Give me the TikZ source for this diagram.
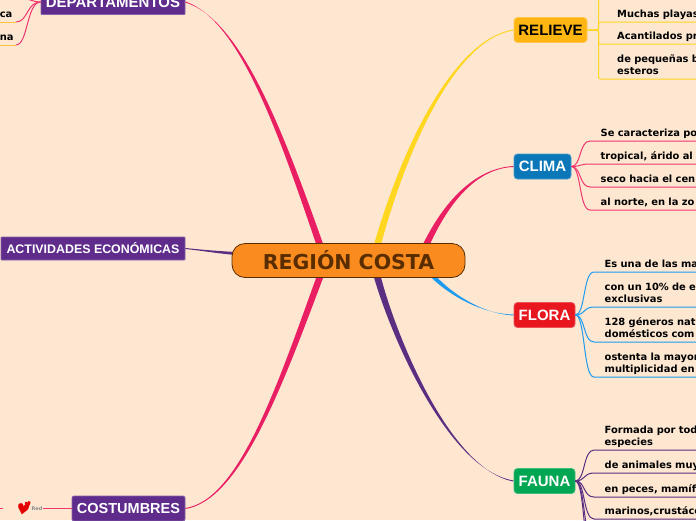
\documentclass[tikz,border=0pt]{standalone}
\usepackage{fontspec}
\usetikzlibrary{calc, backgrounds}
\setmainfont{DejaVu Sans}
\newfontfamily\boxfont{Liberation Sans}
\definecolor{pagecol}{HTML}{FDE7D1}
\definecolor{titlecol}{HTML}{F98B1F}
\definecolor{titledark}{HTML}{5A2D00}
\definecolor{pinkcol}{HTML}{E91E63}
\definecolor{leafpink}{HTML}{F0356F}
\definecolor{sunny}{HTML}{FFD620}
\definecolor{skycol}{HTML}{1E9BEF}
\definecolor{plumcol}{HTML}{5B2E82}
\definecolor{relievecol}{HTML}{FFB612}
\definecolor{climacol}{HTML}{0A77B8}
\definecolor{floracol}{HTML}{E8161E}
\definecolor{faunacol}{HTML}{00A651}
\definecolor{purplebox}{HTML}{5F2C8C}
\tikzset{
  topicbox/.style={draw=#1!75!white, fill=#1, line width=0.8pt, rounded corners=3.5pt, font=\boxfont\bfseries\fontsize{15}{17}\selectfont, text=white, inner sep=0pt},
  purplecard/.style={draw=purplebox!75!white, fill=purplebox, line width=0.8pt, rounded corners=0.8pt, font=\boxfont\bfseries\fontsize{14.5}{17}\selectfont, text=white, inner sep=0pt},
  leafbox/.style={anchor=south west, inner xsep=10.5pt, inner ysep=1.2pt, text width=130pt, align=left, execute at end node=\strut, font=\bfseries\fontsize{9.9}{12}\selectfont, text=black},
  leaflink/.style={line width=1pt}
}
% tapered limb: colour, start, control, control, end, half width at the start
\newcommand{\limb}[6]{%
  \fill[#1] ($(#2)+(#6)$) .. controls ($(#3)+0.75*(#6)$) and ($(#4)+0.3*(#6)$) .. ($(#5)+(0,0.5)$) -- ($(#5)-(0,0.5)$) .. controls ($(#4)-0.3*(#6)$) and ($(#3)-0.75*(#6)$) .. ($(#2)-(#6)$) -- cycle;%
}
\newcommand{\twig}[3]{%
  \draw[leaflink, #1] (#2) .. controls +(10,0) and ($(#3.south west)+(-11,0)$) .. (#3.south west) -- (#3.south east);%
}
\begin{document}
\begin{tikzpicture}[x=1pt, y=-1pt]
        \path[use as bounding box, clip] (0,0) rectangle (696,520);
        \begin{scope}[on background layer]
            \fill[pagecol] (0,0) rectangle (696,520);
        \end{scope}

        % Centre
        \node[draw=titledark, fill=titlecol, line width=0.8pt, rounded corners=13pt, minimum width=233pt, minimum height=34pt, inner sep=0pt, text=titledark, font=\bfseries\fontsize{20.5}{24}\selectfont] (title) at (348.5,260.5) {REGIÓN COSTA};

        % Main topics
        \node[topicbox=relievecol, minimum width=73pt, minimum height=25pt, text=black] (relieve) at (550.5,30) {RELIEVE};
        \node[topicbox=climacol, minimum width=57pt, minimum height=25pt] (clima) at (542.5,166.5) {CLIMA};
        \node[topicbox=floracol, minimum width=61pt, minimum height=25pt] (flora) at (544.5,315) {FLORA};
        \node[topicbox=faunacol, minimum width=61pt, minimum height=25pt] (fauna) at (544.5,481) {FAUNA};
        \node[purplecard, minimum width=144pt, minimum height=25pt, font=\boxfont\bfseries\fontsize{15}{17}\selectfont] (departamentos) at (113,2) {DEPARTAMENTOS};
        \node[purplecard, minimum width=184pt, minimum height=23pt, font=\boxfont\bfseries\fontsize{12.4}{15}\selectfont] (actividades) at (93,248.5) {ACTIVIDADES ECONÓMICAS};
        \node[purplecard, rounded corners=2pt, minimum width=113pt, minimum height=25pt] (costumbres) at (128.5,508.5) {COSTUMBRES};

        % Limbs from the centre
        \coordinate (relievefoot) at ($(title.south west)+(146,-34)$);
        \coordinate (climafoot) at ($(title.south west)+(195,-34)$);
        \coordinate (florafoot) at ($(title.south west)+(203,0)$);
        \coordinate (faunafoot) at ($(title.south west)+(146,0)$);
        \coordinate (departamentosfoot) at ($(title.south west)+(88,-34)$);
        \coordinate (costumbresfoot) at ($(title.south west)+(88,0)$);
        \coordinate (actividadesfoot) at ($(title.west)+(4,-7)$);
        \begin{scope}[on background layer]
            \limb{sunny}{relievefoot}{410,130}{460,38}{relieve.west}{3.5,0}
            \limb{pinkcol}{climafoot}{450,195}{480,168}{clima.west}{3.5,0}
            \limb{skycol}{florafoot}{455,298}{485,314}{flora.west}{3,0}
            \limb{plumcol}{faunafoot}{395,340}{450,470}{fauna.west}{3.5,0}
            \limb{pinkcol}{departamentosfoot}{280,130}{240,20}{departamentos.east}{3.5,0}
            \limb{pinkcol}{costumbresfoot}{280,385}{240,500}{costumbres.east}{3.5,0}
            \limb{plumcol}{actividadesfoot}{215,252}{200,250}{actividades.east}{0,1.5}
        \end{scope}

        % RELIEVE leaves
        \coordinate (relievetop) at (598.5,-1);
        \node[leafbox, inner xsep=18.5pt] (relieveA) at (598.5,22) {Muchas playas};
        \node[leafbox, inner xsep=18.5pt] (relieveB) at (598.5,44) {Acantilados pr};
        \node[leafbox, inner xsep=18.5pt] (relieveC) at (598.5,79) {de pequeñas b\\esteros};
        \draw[leaflink, sunny, rounded corners=2pt] (relieve.east) -| (relievetop) -- ++(100,0);
        \foreach \leaf in {relieveA, relieveB, relieveC}
            {\draw[leaflink, sunny, rounded corners=2pt] (relieve.east) -| (\leaf.south west) -- (\leaf.south east);}

        % CLIMA leaves
        \node[leafbox] (climaA) at (590,141) {Se caracteriza po};
        \node[leafbox] (climaB) at (590,164) {tropical, árido al};
        \node[leafbox] (climaC) at (590,187) {seco hacia el cen};
        \node[leafbox] (climaD) at (590,210) {al norte, en la zo};
        \foreach \leaf in {climaA, climaB, climaC, climaD}
            {\twig{leafpink}{clima.east}{\leaf}}

        % FLORA leaves
        \node[leafbox] (floraA) at (594,272) {Es una de las ma};
        \node[leafbox] (floraB) at (594,307) {con un 10\% de e\\exclusivas};
        \node[leafbox] (floraC) at (594,342) {128 géneros nat\\domésticos com};
        \node[leafbox] (floraD) at (594,377) {ostenta la mayor\\multiplicidad en};
        \foreach \leaf in {floraA, floraB, floraC, floraD}
            {\twig{skycol}{flora.east}{\leaf}}

        % FAUNA leaves
        \node[leafbox] (faunaA) at (594,450) {Formada por tod\\especies};
        \node[leafbox] (faunaB) at (594,473) {de animales muy};
        \node[leafbox] (faunaC) at (594,497) {en peces, mamíf};
        \node[leafbox] (faunaD) at (594,519) {marinos,crustáce};
        \foreach \leaf in {faunaA, faunaB, faunaC, faunaD}
            {\twig{plumcol}{fauna.east}{\leaf}}
        \coordinate (faunaE) at (594,542);
        \coordinate (faunaF) at (594,565);
        \foreach \leaf in {faunaE, faunaF}
            {\draw[leaflink, plumcol] (fauna.east) .. controls +(10,0) and ($(\leaf)+(-11,0)$) .. (\leaf);}

        % DEPARTAMENTOS leaves
        \node[leafbox, anchor=south east, inner xsep=5.5pt, text width=10.5pt, align=right] (depA) at (16,22) {ca};
        \node[leafbox, anchor=south east, inner xsep=5.5pt, text width=10.5pt, align=right] (depB) at (16,45) {na};
        \coordinate (depC) at (20,-2);
        \foreach \leaf in {depA, depB} {
            \draw[leaflink, relievecol!80!white] (\leaf.south east) -- (\leaf.south west);
            \draw[leaflink, leafpink] (departamentos.west) .. controls +(-14,0) and ($(\leaf.south east)+(12,0)$) .. (\leaf.south east);
        }
        \draw[leaflink, leafpink] (departamentos.west) .. controls +(-8,0) and ($(depC)+(8,0)$) .. (depC);

        % COSTUMBRES leaves
        \node[text=black!45, inner sep=0pt, font=\bfseries\fontsize{5}{6}\selectfont] (redlabel) at (37,508.5) {Red};
        \node[text=red!90!black, inner sep=0pt, rotate=-12, font=\fontsize{15}{16}\selectfont] (bigheart) at (23,510) {♥};
        \node[text=red!90!black, inner sep=0pt, rotate=15, font=\fontsize{8}{9}\selectfont] (smallheart) at (28,504.5) {♥};
        \coordinate (costumbresend) at (3,508.5);
        \draw[leaflink, leafpink] (costumbres.west) -- (redlabel.east);
        \draw[leaflink, leafpink] (costumbresend) -- ++(-6,0);
    \end{tikzpicture}
\end{document}
